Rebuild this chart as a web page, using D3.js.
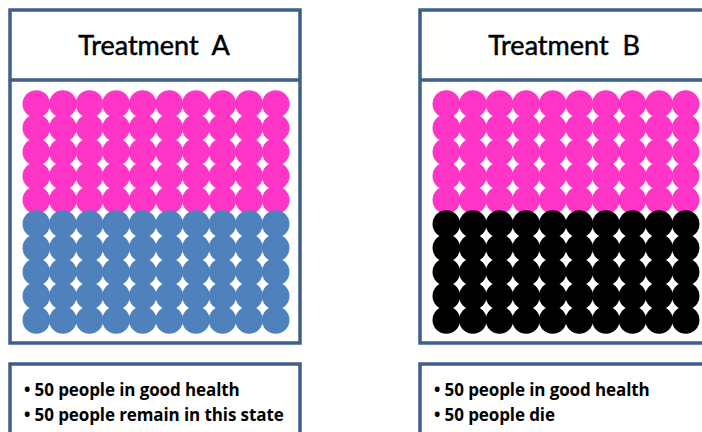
<!DOCTYPE html>
<html lang="en">
<head>
<meta charset="UTF-8">
<title>Treatment A vs Treatment B</title>
<script src="https://d3js.org/d3.v7.min.js"></script>
<style>
    body { margin: 0; background: #fff; }
    .box { fill: #fff; stroke: #3d5f8b; stroke-width: 3.5px; }
    .title { font-family: Lato, "Open Sans", sans-serif; font-size: 27px; fill: #000; stroke: #000; stroke-width: 0.5px; }
    .note { font-family: "Open Sans", sans-serif; font-size: 17px; font-weight: bold; fill: #000; letter-spacing: -0.1px; }
</style>
</head>
<body>
<script>
    // panels
    var treatments = ["Treatment  A", "Treatment  B"];

    // people per state in each treatment (10 x 10 grid, row by row)
    var statesA = ["good health", "remain in state"];
    var countsA = [50, 50];
    var statesB = ["good health", "die"];
    var countsB = [50, 50];

    var stateColors = {
        "good health": "#ff35c8",
        "remain in state": "#4f81bd",
        "die": "#000000"
    };

    // bullet text under each panel
    var notesA = ["50 people in good health", "50 people remain in this state"];
    var notesB = ["50 people in good health", "50 people die"];

    var panels = [
        { name: treatments[0], states: statesA, counts: countsA, notes: notesA },
        { name: treatments[1], states: statesB, counts: countsB, notes: notesB }
    ];

    var W = 702, H = 432;
    var svg = d3.select("body").append("svg")
        .attr("width", W)
        .attr("height", H);

    // panel positions
    var px = d3.scaleOrdinal().domain(treatments).range([10, 420]);
    var boxW = 290;

    // grid scales (relative to panel left)
    var nCols = 10, nRows = 10;
    var col = d3.scaleBand().domain(d3.range(nCols)).range([13, 279]);
    var row = d3.scaleBand().domain(d3.range(nRows)).range([92, 332]);
    var r = col.bandwidth() / 2 + 0.5;

    panels.forEach(function (p) {
        var g = svg.append("g")
            .attr("transform", "translate(" + px(p.name) + ",0)");

        // outer box with title strip
        g.append("rect").attr("class", "box")
            .attr("x", 0).attr("y", 10)
            .attr("width", boxW).attr("height", 333);
        g.append("line")
            .attr("x1", 0).attr("x2", boxW)
            .attr("y1", 80).attr("y2", 80)
            .attr("stroke", "#3d5f8b").attr("stroke-width", 3.5);

        g.append("text").attr("class", "title")
            .attr("x", boxW / 2 - 1).attr("y", 55)
            .attr("text-anchor", "middle")
            .attr("xml:space", "preserve")
            .style("white-space", "pre")
            .text(p.name);

        // one dot per person
        var people = [];
        p.states.forEach(function (s, i) {
            for (var k = 0; k < p.counts[i]; k++) people.push(s);
        });

        g.selectAll("circle")
            .data(people)
            .enter().append("circle")
            .attr("cx", function (d, i) { return col(i % nCols) + col.bandwidth() / 2; })
            .attr("cy", function (d, i) { return row(Math.floor(i / nCols)) + row.bandwidth() / 2; })
            .attr("r", r)
            .attr("fill", function (d) { return stateColors[d]; });

        // notes box
        g.append("rect").attr("class", "box")
            .attr("x", 0).attr("y", 364)
            .attr("width", boxW).attr("height", 100);

        g.selectAll(".note")
            .data(p.notes)
            .enter().append("text")
            .attr("class", "note")
            .attr("x", 14)
            .attr("y", function (d, i) { return 396 + i * 25; })
            .text(function (d) { return "\u2022 " + d; });
    });
</script>
</body>
</html>
